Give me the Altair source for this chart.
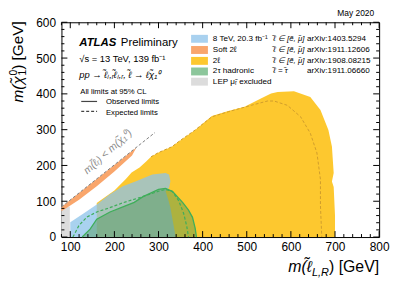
import altair as alt
import pandas as pd

# ---------------- data (GeV) ----------------
yellow_x = [160, 160, 200, 226, 239, 257, 272, 283, 300, 330, 346, 383, 421, 458, 495, 532, 555, 570, 607, 644, 667, 685, 693, 697, 693, 697, 700, 700]
yellow_y = [0, 95, 130, 162, 180, 194, 211, 224, 236, 252, 267, 299, 338, 352, 364, 387, 401, 405, 407, 391, 355, 299, 253, 179, 155, 140, 60, 0]

blue_x = [100, 100, 130, 160, 189, 219, 249, 286, 316, 324, 327, 324, 316, 322, 327, 335, 339]
blue_y = [0, 41, 66, 91, 119, 142, 156, 175, 179, 175, 156, 138, 128, 105, 82, 27, 0]

green_obs_x = [127, 145, 160, 190, 215, 245, 265, 300, 316, 332, 355, 368, 377, 383, 386]
green_obs_y = [0, 22, 50, 70, 82, 97, 113, 133, 136, 127, 96, 75, 55, 25, 0]

green_exp_x = [106, 120, 138, 160, 185, 220, 262, 300, 316, 331, 346, 357, 364, 368]
green_exp_y = [0, 33, 56, 70, 80, 96, 112, 128, 133, 128, 101, 66, 30, 0]

yellow_exp_x = [283, 300, 330, 346, 383, 421, 458, 510, 547, 562, 592, 622, 644, 659, 667, 667, 670]
yellow_exp_y = [224, 236, 252, 267, 299, 336, 350, 368, 380, 380, 368, 336, 290, 235, 161, 87, 0]

orange_x = [80, 250, 240, 200, 160, 120, 100, 80]
orange_y = [84, 250, 228, 183, 142, 104, 88, 72]

lep_x = [80, 99, 99, 80]
lep_y = [0, 0, 85, 83]

diag_x = [80, 292]
diag_y = [84, 292]

x_major = [100, 200, 300, 400, 500, 600, 700, 800]
x_minor = [80, 120, 140, 160, 180, 220, 240, 260, 280, 320, 340, 360, 380, 420, 440, 460, 480,
           520, 540, 560, 580, 620, 640, 660, 680, 720, 740, 760, 780]
y_major = [0, 100, 200, 300, 400, 500, 600]
y_minor = [20, 40, 60, 80, 120, 140, 160, 180, 220, 240, 260, 280, 320, 340, 360, 380,
           420, 440, 460, 480, 520, 540, 560, 580]

leg_labels = ["8 TeV, 20.3 fb\u207b\u00b9", "Soft 2\u2113", "2\u2113", "2\u03c4 hadronic", "LEP \u03bc\u0303\u1d63 excluded"]
leg_flavour = ["\u2113\u0303 \u2208 [e\u0303, \u03bc\u0303]", "\u2113\u0303 \u2208 [e\u0303, \u03bc\u0303]",
               "\u2113\u0303 \u2208 [e\u0303, \u03bc\u0303]", "\u2113\u0303 = \u03c4\u0303", ""]
leg_arxiv = ["arXiv:1403.5294", "arXiv:1911.12606", "arXiv:1908.08215", "arXiv:1911.06660", ""]
leg_colors = ["#a9d1ef", "#f9a66c", "#fdc82f", "#8cc69b", "#dcdcdc"]

W, H = 321, 217
FONT = "Liberation Sans"

xs = alt.Scale(domain=[80, 800], nice=False, zero=False)
ys = alt.Scale(domain=[0, 600], nice=False, zero=False)
XAX = alt.Axis(values=x_major, labelFontSize=12, labelPadding=5, labelFlush=False)
YAX = alt.Axis(values=y_major, labelFontSize=12, labelPadding=6, labelFlush=False)


def X(f):
    return alt.X(f, scale=xs, axis=XAX, title="")


def Y(f):
    return alt.Y(f, scale=ys, axis=YAX, title="")


def poly(xv, yv, **mk):
    df = pd.DataFrame({"x": list(xv) + [xv[0]], "y": list(yv) + [yv[0]],
                       "i": list(range(len(xv) + 1))})
    return alt.Chart(df).mark_line(**mk).encode(x=X("x:Q"), y=Y("y:Q"), order="i:Q")


def path(xv, yv, **mk):
    df = pd.DataFrame({"x": xv, "y": yv, "i": list(range(len(xv)))})
    return alt.Chart(df).mark_line(**mk).encode(x=X("x:Q"), y=Y("y:Q"), order="i:Q")


def txt(s, x, y, size, **kw):
    return alt.Chart(pd.DataFrame({"t": [s]})).mark_text(
        font=FONT, fontSize=size, align=kw.pop("align", "left"),
        baseline=kw.pop("baseline", "alphabetic"), **kw).encode(
        x=alt.value(x), y=alt.value(y), text="t:N")


layers = []
layers.append(poly(yellow_x, yellow_y, fill="#fdc82f", strokeOpacity=0))
layers.append(poly(blue_x, blue_y, fill="#8cc3ea", fillOpacity=0.75, strokeOpacity=0))
layers.append(poly(green_obs_x, green_obs_y, fill="#4b9655", fillOpacity=0.45, strokeOpacity=0))
layers.append(poly(lep_x, lep_y, fill="#dcdcdc", strokeOpacity=0))
layers.append(poly(orange_x, orange_y, fill="#f9a66c", strokeOpacity=0))
layers.append(path(yellow_exp_x, yellow_exp_y, color="#cf9d2c", strokeWidth=1, strokeDash=[3, 2]))
layers.append(path(green_exp_x, green_exp_y, color="#3fae5a", strokeWidth=1.2, strokeDash=[3, 2]))
layers.append(path(green_obs_x, green_obs_y, color="#3fae5a", strokeWidth=1.3))
layers.append(path(diag_x, diag_y, color="#808080", strokeWidth=1, strokeDash=[3, 2]))


# inward ticks on all four sides
def xticks(vals, L):
    d = pd.DataFrame({"x": vals})
    b = alt.Chart(d).mark_rule(color="black", strokeWidth=1).encode(
        x=X("x:Q"), y=alt.value(H), y2=alt.value(H - L))
    t = alt.Chart(d).mark_rule(color="black", strokeWidth=1).encode(
        x=X("x:Q"), y=alt.value(0), y2=alt.value(L))
    return [b, t]


def yticks(vals, L):
    d = pd.DataFrame({"y": vals})
    l = alt.Chart(d).mark_rule(color="black", strokeWidth=1).encode(
        y=Y("y:Q"), x=alt.value(0), x2=alt.value(L))
    r = alt.Chart(d).mark_rule(color="black", strokeWidth=1).encode(
        y=Y("y:Q"), x=alt.value(W), x2=alt.value(W - L))
    return [l, r]


layers += xticks(x_major, 6) + xticks(x_minor, 3) + yticks(y_major, 6) + yticks(y_minor, 3)

# axis titles built from pieces (sub/superscripts)
TS = 16
layers.append(txt(") [GeV]", W, 252, TS, align="right"))
layers.append(txt("L,R", W - 50.7, 256, 11, align="right", fontStyle="italic"))
layers.append(txt("m(\u2113\u0303", W - 68, 252, TS, align="right", fontStyle="italic"))

YS = 15.5
YB = -39
layers.append(txt(") [GeV]", YB, -1, YS, align="right", angle=270))
layers.append(txt("0", YB - 6, 48, 10.5, align="right", angle=270))
layers.append(txt("1", YB + 3, 48, 10.5, align="right", angle=270))
layers.append(txt("m(\u03c7\u0303", YB, 54.5, YS, align="right", angle=270, fontStyle="italic"))

# annotations (pixel positions inside plot area)
layers.append(txt("May 2020", 316, -6, 8.5, align="right"))
layers.append(txt("ATLAS", 18, 24, 11.5, fontWeight="bold", fontStyle="italic"))
layers.append(txt("Preliminary", 60, 24, 11.5))
layers.append(txt("\u221as = 13 TeV, 139 fb\u207b\u00b9", 18, 40, 9.5))
layers.append(txt("pp \u2192 \u2113\u0303\u2097,\u1d63\u2113\u0303\u2097,\u1d63, \u2113\u0303 \u2192 \u2113\u03c7\u0303\u2081\u2070", 18, 56, 9.5, fontStyle="italic"))
layers.append(txt("All limits at 95% CL", 19, 72, 7.8))
layers.append(txt("Observed limits", 45, 83, 7.8))
layers.append(txt("Expected limits", 45, 94, 7.8))
layers.append(alt.Chart(pd.DataFrame({"a": [0]})).mark_rule(color="#444", strokeWidth=1.2).encode(
    x=alt.value(20), x2=alt.value(36), y=alt.value(80)))
layers.append(alt.Chart(pd.DataFrame({"a": [0]})).mark_rule(color="#444", strokeWidth=1.2, strokeDash=[3, 2]).encode(
    x=alt.value(20), x2=alt.value(36), y=alt.value(90)))
layers.append(txt("m(\u2113\u0303\u1d63) < m(\u03c7\u0303\u2081\u2070)", 47, 131, 10.5, align="center",
                  baseline="middle", angle=318, color="#8a8a8a", fontStyle="italic"))

row_y = [16.7, 28, 39, 49.7, 60]
for i in range(5):
    yc = row_y[i]
    layers.append(alt.Chart(pd.DataFrame({"a": [0]})).mark_rect(color=leg_colors[i]).encode(
        x=alt.value(131), x2=alt.value(148), y=alt.value(yc - 4), y2=alt.value(yc + 4)))
    layers.append(txt(leg_labels[i], 153, yc, 8.2, baseline="middle"))
    if leg_flavour[i]:
        layers.append(txt(leg_flavour[i], 214, yc, 7.9, baseline="middle", fontStyle="italic"))
    if leg_arxiv[i]:
        layers.append(txt(leg_arxiv[i], 248, yc, 8.2, baseline="middle"))

chart = alt.layer(*layers).properties(
    width=W, height=H,
    autosize=alt.AutoSizeParams(type="none"),
    padding={"left": 54, "top": 13, "right": 13, "bottom": 44},
).configure_view(stroke="black", strokeWidth=1).configure_axis(
    domain=False, ticks=False, tickSize=0, grid=False, labelFont=FONT, titleFont=FONT,
    labelColor="black", titleColor="black", titleFontWeight="normal",
)

chart.save("out.html", embed_options={"renderer": "svg", "actions": False})
